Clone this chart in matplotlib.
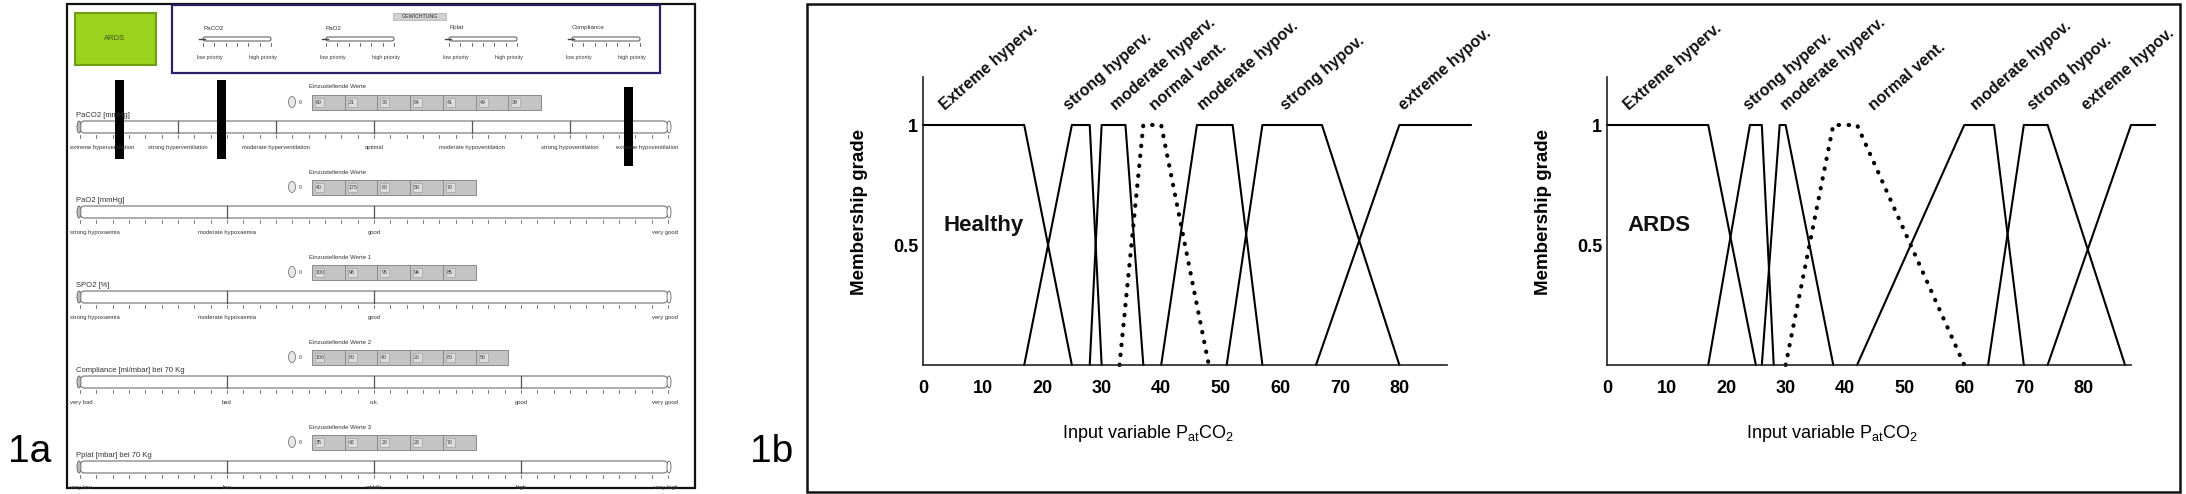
import numpy as np
import matplotlib
matplotlib.use("Agg")
import matplotlib.pyplot as plt
from matplotlib.patches import Rectangle, FancyBboxPatch, Ellipse

plt.rcParams['font.family'] = ['Liberation Sans Narrow', 'Liberation Sans', 'DejaVu Sans']
plt.rcParams['mathtext.fontset'] = 'custom'
plt.rcParams['mathtext.rm'] = 'Liberation Sans'

W, H = 2186, 494

# ---------------- panel 1b: fuzzy sets of PaCO2 ----------------
set_names = ["Extreme hyperv.", "strong hyperv.", "moderate hyperv.", "normal vent.",
             "moderate hypov.", "strong hypov.", "extreme hypov."]
healthy_x = [[0, 17, 25], [17, 25, 28, 30], [28, 30, 34, 37], [33, 37, 40, 48],
             [40, 46, 52, 57], [51, 57, 67, 80], [66, 80, 92]]
ards_x = [[0, 17, 25], [17, 24, 26, 28], [26, 29, 30, 38], [30, 38, 42, 60],
          [42, 60, 65, 70], [64, 70, 74, 87], [74, 88, 92]]
healthy_label_x = [3.7, 24.6, 32.4, 39, 47, 61, 80.8]
ards_label_x = [3.7, 23.8, 30.1, 44.8, 62, 71.6, 80.7]
xticks = [0, 10, 20, 30, 40, 50, 60, 70, 80]
yticks = [0.5, 1]

# ---------------- panel 1a: GUI screenshot ----------------
weight_names = ["PaCO2", "PaO2", "Pplat", "Compliance"]
slider_names = ["PaCO2 [mmHg]", "PaO2 [mmHg]", "SPO2 [%]",
                "Compliance [ml/mbar] bei 70 Kg", "Pplat [mbar] bei 70 Kg"]
slider_titles = ["Einzustellende Werte", "Einzustellende Werte", "Einzustellende Werte 1",
                 "Einzustellende Werte 2", "Einzustellende Werte 3"]
slider_values = [["60", "21", "30", "64", "41", "49", "39"],
                 ["40", "175", "80", "50", "70"],
                 ["100", "98", "95", "94", "85"],
                 ["100", "80", "40", "20", "80", "50"],
                 ["35", "42", "20", "28", "70"]]
slider_labels = [["extreme hyperventilation", "strong hyperventilation", "moderate hyperventilation",
                  "optimal", "moderate hypoventilation", "strong hypoventilation",
                  "extreme hypoventilation"],
                 ["strong hypoxaemia", "moderate hypoxaemia", "good", "very good"],
                 ["strong hypoxaemia", "moderate hypoxaemia", "good", "very good"],
                 ["very bad", "bad", "o.k.", "good", "very good"],
                 ["very low", "low", "middle", "high", "very high"]]
slider_label_pos = [[0, 1/6, 2/6, 3/6, 4/6, 5/6, 1],
                    [0, 0.25, 0.5, 1],
                    [0, 0.25, 0.5, 1],
                    [0, 0.25, 0.5, 0.75, 1],
                    [0, 0.25, 0.5, 0.75, 1]]


fig = plt.figure(figsize=(W / 100, H / 100), dpi=100)
bg = fig.add_axes([0, 0, 1, 1], zorder=0)
bg.set_xlim(0, W)
bg.set_ylim(H, 0)
bg.axis('off')

txt = '#333333'

# outer frames and panel tags
bg.add_patch(Rectangle((67, 4), 628, 484, fill=False, lw=1.6, ec='#111111'))
bg.add_patch(Rectangle((807, 4), 1373, 488, fill=False, lw=1.8, ec='#111111'))
bg.text(8, 462, "1a", fontsize=28, family=['Liberation Sans', 'DejaVu Sans'], va='baseline')
bg.text(750, 462, "1b", fontsize=28, family=['Liberation Sans', 'DejaVu Sans'], va='baseline')

# green status box
bg.add_patch(Rectangle((75, 13), 81, 52, fc='#9ad21f', ec='#6f9e16', lw=1.5))
bg.text(115, 39, "ARDS", fontsize=5.5, color='#445522', ha='center', va='center')

# weighting box
bg.add_patch(Rectangle((172, 5), 488, 68, fill=False, ec='#2b1f6b', lw=1.6))
bg.add_patch(Rectangle((393, 13), 53, 7, fc='#d0d0d0', ec='#aaaaaa', lw=0.5))
bg.text(419.5, 16.5, "GEWICHTUNG", fontsize=3.8, color=txt, ha='center', va='center')
for i, nm in enumerate(weight_names):
    x0 = 203 + i * 123
    bg.text(x0, 28, nm, fontsize=4.5, color=txt, va='center')
    bg.add_patch(FancyBboxPatch((x0, 37), 68, 4, boxstyle="round,pad=0,rounding_size=2",
                                fc='white', ec='#666666', lw=0.8))
    bg.plot([x0 - 4, x0 + 2], [39, 39], color='#444444', lw=1.0)
    for tx in np.linspace(x0, x0 + 68, 7):
        bg.plot([tx, tx], [43, 46], color='#555555', lw=0.6)
    bg.text(x0 - 6, 57, "low priority", fontsize=3.8, color=txt, va='center')
    bg.text(x0 + 74, 57, "high priority", fontsize=3.8, color=txt, va='center', ha='right')

# big sliders
bar_x0, bar_x1 = 80, 668
row_y = [127, 212, 297, 382, 467]
for r, yc in enumerate(row_y):
    bg.text(309, yc - 40, slider_titles[r], fontsize=4.3, color=txt, va='center')
    bg.add_patch(Ellipse((292, yc - 25), 7, 11, fc='#e8e8e8', ec='#777777', lw=0.6))
    bg.text(299, yc - 25, "0", fontsize=3.8, color=txt, va='center')
    for k, v in enumerate(slider_values[r]):
        bx = 312 + k * 32.7
        bg.add_patch(Rectangle((bx, yc - 32), 32.7, 15, fc='#c4c4c4', ec='#8a8a8a', lw=0.7))
        bg.add_patch(Rectangle((bx + 3, yc - 29), 9, 9, fc='#dcdcdc', ec='#9a9a9a', lw=0.4))
        bg.text(bx + 4, yc - 24.5, v, fontsize=3.8, color=txt, va='center')
    bg.text(76, yc - 12, slider_names[r], fontsize=5.5, color=txt, va='center')
    bg.add_patch(FancyBboxPatch((bar_x0, yc - 6), bar_x1 - bar_x0, 12,
                                boxstyle="round,pad=0,rounding_size=5",
                                fc='white', ec='#8c8c8c', lw=1.0))
    bg.add_patch(Ellipse((bar_x0 - 1, yc), 4, 12, fc='#bbbbbb', ec='#666666', lw=0.6))
    bg.add_patch(Ellipse((bar_x1 + 1, yc), 4, 12, fc='white', ec='#666666', lw=0.6))
    for tx in np.linspace(bar_x0, bar_x1, 37):
        bg.plot([tx, tx], [yc + 8, yc + 11], color='#666666', lw=0.6)
    for p, lab in zip(slider_label_pos[r], slider_labels[r]):
        xx = bar_x0 + p * (bar_x1 - bar_x0)
        if 0 < p < 1:
            bg.plot([xx, xx], [yc - 6, yc + 6], color='#555555', lw=0.9)
        ha = 'center'
        if p == 0:
            xx, ha = 70, 'left'
        elif p == 1:
            xx, ha = 678, 'right'
        bg.text(xx, yc + 20, lab, fontsize=4.2, color=txt, ha=ha, va='center')

# black marker bars drawn on the screenshot
for (mx, my0, my1) in [(115, 80, 159), (217, 80, 159), (624, 87, 166)]:
    bg.add_patch(Rectangle((mx, my0), 9, my1 - my0, fc='black', ec='none'))


def draw_panel(ax, xs, label_x, tag):
    n = len(xs)
    for i, (xp, lx) in enumerate(zip(xs, label_x)):
        if i == 0:
            yp = [1, 1, 0]
        elif i == n - 1:
            yp = [0, 1, 1]
        else:
            yp = [0, 1, 1, 0]
        if set_names[i] == "normal vent.":
            ax.plot(xp, yp, color='black', lw=3.0, ls=(0, (0.1, 2.3)),
                    dash_capstyle='round', clip_on=False)
        else:
            ax.plot(xp, yp, color='black', lw=1.5, clip_on=False)
        ax.text(lx, 1.06, set_names[i], rotation=41, rotation_mode='anchor',
                ha='left', va='baseline', fontsize=11.5, fontweight='bold', color='#111111')
    ax.text(3.4, 0.58, tag, fontsize=16, fontweight='bold', va='center', color='#111111')
    ax.set_xlim(0, 88)
    ax.set_ylim(0, 1.2)
    ax.patch.set_alpha(0)
    for s in ['top', 'right']:
        ax.spines[s].set_visible(False)
    for s in ['left', 'bottom']:
        ax.spines[s].set_linewidth(1.2)
        ax.spines[s].set_color('#222222')
    ax.set_xticks(xticks)
    ax.set_yticks(yticks)
    ax.set_yticklabels(['0.5', '1'])
    ax.tick_params(axis='x', length=0, pad=10.5, labelsize=13)
    ax.tick_params(axis='y', length=0, pad=3.5, labelsize=13)
    for lab in ax.get_xticklabels() + ax.get_yticklabels():
        lab.set_fontweight('bold')
    ax.set_ylabel("Membership grade", fontsize=13.5, fontweight='bold')
    ax.yaxis.set_label_coords(-0.105, 0.53)
    ax.set_xlabel(r"Input variable P$_{\mathrm{at}}$CO$_2$", fontsize=13)
    ax.xaxis.set_label_coords(0.43, -0.20)


ax_h = fig.add_axes([923 / W, (H - 365) / H, 524 / W, 288 / H], zorder=1)
draw_panel(ax_h, healthy_x, healthy_label_x, "Healthy")
ax_a = fig.add_axes([1607 / W, (H - 365) / H, 524 / W, 288 / H], zorder=1)
draw_panel(ax_a, ards_x, ards_label_x, "ARDS")

fig.savefig("out.png", dpi=100)
